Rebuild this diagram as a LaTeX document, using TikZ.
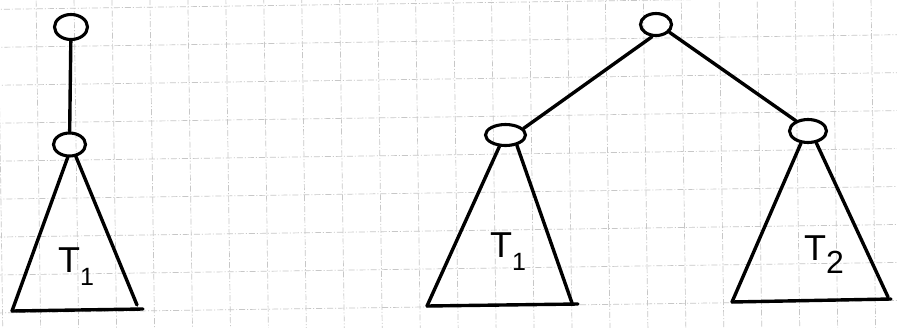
\documentclass[tikz,border=0pt]{standalone}
\usepackage{fontspec}
\setmainfont{Liberation Sans}
\usetikzlibrary{shapes.geometric}
\tikzset{
  gridline/.style={black!22, line width=0.7pt, dash pattern=on 6pt off 2pt on 1pt off 2pt},
  vtx/.style={draw, ellipse, line width=3.1pt, inner sep=0pt},
  ink/.style={line width=3.4pt, line cap=round, line join=round},
  lbl/.style={inner sep=0pt, font=\fontsize{36}{36}\selectfont}
}
\newcommand{\subt}[2]{\raisebox{-13pt}{\fontsize{#2}{#2}\selectfont #1}}
\begin{document}
\begin{tikzpicture}[x=1pt,y=-1pt]
\useasboundingbox (0,0) rectangle (897,327);
\fill[white] (0,0) rectangle (897,327);
% grid paper
\begin{scope}
\clip (0,0) rectangle (897,327);
\begin{scope}[rotate around={0.8:(448,163)}]
\foreach \k in {-2,...,25} {
  \draw[gridline] ({38.4+37.95*\k},-60) -- ({38.4+37.95*\k},390);
}
\foreach \k in {-2,...,10} {
  \draw[gridline] (-60,{41+37.95*\k}) -- (960,{41+37.95*\k});
}
\end{scope}
\end{scope}

% left figure
\node[vtx, minimum width=33pt, minimum height=25pt] (L0) at (71,27) {};
\node[vtx, minimum width=32pt, minimum height=23pt] (L1) at (69.5,144.5) {};
\draw[ink] (L0) -- (L1);
\coordinate (Lbl) at (12,311);
\coordinate (Lbr) at (143,309);
\coordinate (Lrb) at (137,305);
\draw[ink] (L1.262) -- (Lbl);
\draw[ink] (L1.298) -- (Lrb);
\draw[ink] (Lbl) -- (Lbr);
\node[lbl] (t1a) at (76,267) {T\subt{1}{25}};

% right figure
\node[vtx, minimum width=31pt, minimum height=22pt] (R) at (656,24.5) {};
\node[vtx, minimum width=40pt, minimum height=21pt] (A) at (505.5,135) {};
\node[vtx, minimum width=37pt, minimum height=23pt] (B) at (808,131) {};
\draw[ink] (R.252) -- (A.20);
\draw[ink] (R.330) -- (B.140);
% left subtree
\coordinate (Abl) at (427,306);
\coordinate (Abr) at (578,304);
\coordinate (Arb) at (572,303);
\draw[ink] (A.242) -- (Abl);
\draw[ink] (A.318) -- (Arb);
\draw[ink] (Abl) -- (Abr);
\node[lbl] (t1b) at (508,252) {T\subt{1}{25}};
% right subtree
\coordinate (Bbl) at (732,302);
\coordinate (Bbr) at (891,299);
\coordinate (Brb) at (888,297);
\draw[ink] (B.240) -- (Bbl);
\draw[ink] (B.305) -- (Brb);
\draw[ink] (Bbl) -- (Bbr);
\node[lbl] (t2) at (824,255) {T\subt{2}{32}};
\end{tikzpicture}
\end{document}
